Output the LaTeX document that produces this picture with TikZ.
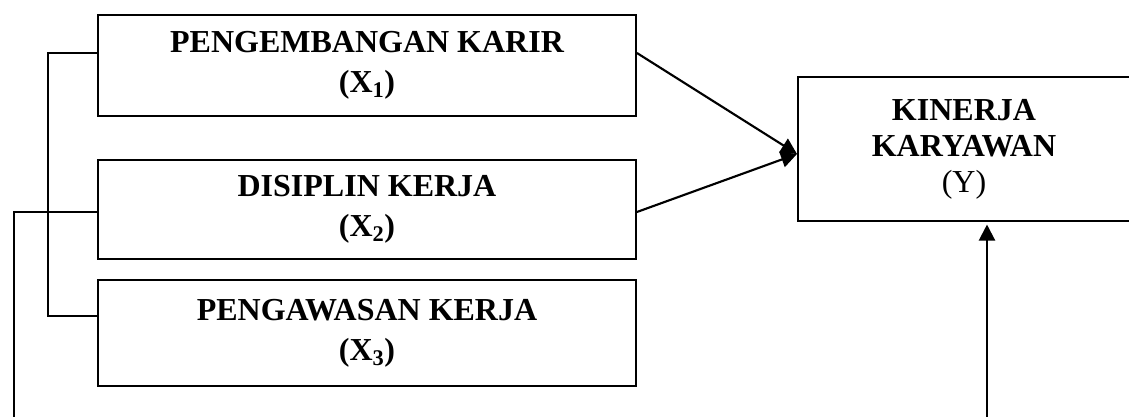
\documentclass[tikz,border=0pt]{standalone}
\usepackage{fontspec}
\setmainfont{Liberation Serif}
\usetikzlibrary{arrows.meta}
\begin{document}
\begin{tikzpicture}[x=0.75pt,y=-0.75pt,
  varbox/.style={draw,line width=1.4pt,inner sep=0pt,align=center,
    font=\bfseries\fontsize{24}{30}\selectfont},
  ybox/.style={draw,line width=1.4pt,inner sep=0pt},
  ytext/.style={inner sep=0pt,align=center,font=\fontsize{24}{27}\selectfont},
  conn/.style={line width=1.4pt},
  arr/.style={line width=1.6pt,-{Triangle[length=12pt,width=12pt]}}]
\useasboundingbox (0,0) rectangle (1129,417);
\node[varbox,minimum width=538*0.75pt,minimum height=101*0.75pt] (X1) at (367,65.5)
  {PENGEMBANGAN KARIR\\(X\textsubscript{1})};
\node[varbox,minimum width=538*0.75pt,minimum height=99*0.75pt] (X2) at (367,209.5)
  {DISIPLIN KERJA\\(X\textsubscript{2})};
\node[varbox,minimum width=538*0.75pt,minimum height=106*0.75pt] (X3) at (367,333)
  {PENGAWASAN KERJA\\(X\textsubscript{3})};
\node[ybox,minimum width=360*0.75pt,minimum height=144*0.75pt,anchor=north west] (Y) at (797,76) {};
\node[ytext] (Ytext) at (964,149) {\textbf{KINERJA}\\\textbf{KARYAWAN}\\(Y)};
\coordinate (b1) at (48,53);
\coordinate (b3) at (48,316);
\coordinate (j2) at (14,212);
\coordinate (bl) at (14,418);
\coordinate (br) at (987,418);
\coordinate (tt) at (0,154);
\draw[conn] (X1.west |- b1) -- (b1) -- (b3) -- (X3.west |- b3);
\draw[conn] (X2.west |- j2) -- (j2) -- (bl);
\draw[arr] (X1.east |- b1) -- (Y.west |- tt);
\draw[arr] (X2.east |- j2) -- (Y.west |- tt);
\draw[arr,shorten >=2pt] (br) -- (Y.south -| br);
\end{tikzpicture}
\end{document}
